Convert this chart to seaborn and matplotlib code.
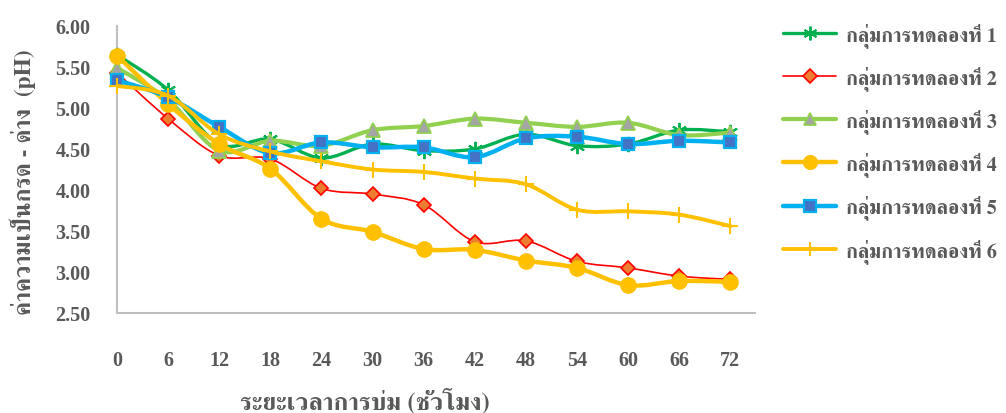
import numpy as np
import matplotlib
matplotlib.use("Agg")
import matplotlib.pyplot as plt
from matplotlib import font_manager
from matplotlib.ft2font import FT2Font
from matplotlib.path import Path
from matplotlib.patches import PathPatch
from matplotlib.lines import Line2D
import seaborn as sns

# pH of each experimental group over the incubation time (hours)
hours = [0, 6, 12, 18, 24, 30, 36, 42, 48, 54, 60, 66, 72]
group1 = [5.65, 5.22, 4.56, 4.62, 4.39, 4.56, 4.48, 4.50, 4.68, 4.54, 4.56, 4.73, 4.71]
group2 = [5.43, 4.87, 4.42, 4.38, 4.02, 3.95, 3.82, 3.37, 3.38, 3.13, 3.05, 2.95, 2.91]
group3 = [5.49, 5.10, 4.48, 4.60, 4.54, 4.73, 4.78, 4.87, 4.82, 4.77, 4.82, 4.67, 4.70]
group4 = [5.64, 5.05, 4.56, 4.26, 3.65, 3.49, 3.28, 3.27, 3.14, 3.05, 2.84, 2.89, 2.88]
group5 = [5.34, 5.13, 4.77, 4.45, 4.58, 4.52, 4.52, 4.40, 4.63, 4.65, 4.56, 4.60, 4.58]
group6 = [5.27, 5.15, 4.68, 4.47, 4.35, 4.25, 4.22, 4.14, 4.07, 3.76, 3.74, 3.70, 3.56]
labels = ["กลุ่มการทดลองที่ 1", "กลุ่มการทดลองที่ 2", "กลุ่มการทดลองที่ 3",
          "กลุ่มการทดลองที่ 4", "กลุ่มการทดลองที่ 5", "กลุ่มการทดลองที่ 6"]
y_ticks = [2.50, 3.00, 3.50, 4.00, 4.50, 5.00, 5.50, 6.00]
x_title = "ระยะเวลาการบ่ม (ชั่วโมง)"
y_title = "ค่าความเป็นกรด - ด่าง  (pH)"

sns.set_style("white")


def thai_font():
    """Pick an installed font that can render Thai script."""
    best = None
    for f in font_manager.fontManager.ttflist:
        try:
            ft = FT2Font(f.fname)
            if ft.get_char_index(ord("ก")) == 0:
                continue
        except Exception:
            continue
        score = 0
        name = f.name.lower()
        if "serif" in name and "sans" not in name:
            score += 2
        if f.weight in ("bold", 700) or (isinstance(f.weight, int) and f.weight >= 700):
            score += 1
        if best is None or score > best[0]:
            best = (score, f.name)
    return best[1] if best else "DejaVu Sans"


thai = thai_font()
plt.rcParams["font.family"] = [thai, "DejaVu Sans"]

text_color = "#595959"
axis_color = "#BFBFBF"

styles = [
    dict(color="#00B050", lw=2.4, marker=(6, 2, 0), ms=11, mfc="#00B050", mec="#00B050", mew=1.4),
    dict(color="#FF0000", lw=1.2, marker="D", ms=7.5, mfc="#ED7D31", mec="#FF0000", mew=1.2),
    dict(color="#92D050", lw=3.0, marker="^", ms=9.5, mfc="#A5A5A5", mec="#92D050", mew=1.3),
    dict(color="#FFC000", lw=3.2, marker="o", ms=11, mfc="#FFC000", mec="#FFC000", mew=1.0),
    dict(color="#00B0F0", lw=3.2, marker="s", ms=9, mfc="#4472C4", mec="#00B0F0", mew=1.6),
    dict(color="#FFC000", lw=2.8, marker="+", ms=11, mfc="#FFC000", mec="#FFC000", mew=1.5),
]
series = [group1, group2, group3, group4, group5, group6]


def smooth_path(xs, ys, tension=1 / 6):
    """Bezier path through the points (Catmull-Rom style smoothing)."""
    p = np.column_stack([xs, ys]).astype(float)
    n = len(p)
    verts = [p[0]]
    codes = [Path.MOVETO]
    for i in range(n - 1):
        p0 = p[i - 1] if i > 0 else p[i]
        p1 = p[i]
        p2 = p[i + 1]
        p3 = p[i + 2] if i + 2 < n else p[i + 1]
        c1 = p1 + (p2 - p0) * tension
        c2 = p2 - (p3 - p1) * tension
        verts += [c1, c2, p2]
        codes += [Path.CURVE4] * 3
    return Path(verts, codes)


fig = plt.figure(figsize=(10.06, 4.14), dpi=100)
ax = fig.add_axes([117 / 1006, 1 - 314 / 414, (755 - 117) / 1006, (314 - 27) / 414])

handles = []
for k, (vals, st) in enumerate(zip(series, styles)):
    patch = PathPatch(smooth_path(hours, vals), facecolor="none", edgecolor=st["color"],
                      lw=st["lw"], zorder=2 + 2 * k, capstyle="round", joinstyle="round")
    ax.add_patch(patch)
    sns.lineplot(x=hours, y=vals, ax=ax, linestyle="none", marker=st["marker"],
                 markersize=st["ms"], markerfacecolor=st["mfc"], markeredgecolor=st["mec"],
                 markeredgewidth=st["mew"], zorder=3 + 2 * k, legend=False, clip_on=False)
    handles.append(Line2D([], [], color=st["color"], lw=st["lw"], marker=st["marker"],
                          markersize=st["ms"] * 0.9, markerfacecolor=st["mfc"],
                          markeredgecolor=st["mec"], markeredgewidth=st["mew"]))

ax.set_xlim(0, 74.9)
ax.set_ylim(2.5, 6.0)
ax.set_xticks(hours)
ax.set_yticks(y_ticks)

num_font = dict(family="Liberation Serif", weight="bold", size=14.5, color=text_color)
ax.set_xticklabels([str(h) for h in hours], fontdict=num_font)
ax.set_yticklabels([f"{v:.2f}" for v in y_ticks], fontdict=num_font)
ax.tick_params(axis="x", direction="out", length=8, width=1.2, color=axis_color, pad=19)
ax.tick_params(axis="y", direction="out", length=8, width=1.2, color=axis_color, pad=11)

for side in ("top", "right"):
    ax.spines[side].set_visible(False)
for side in ("left", "bottom"):
    ax.spines[side].set_color(axis_color)
    ax.spines[side].set_linewidth(1.5)

ax.set_xlabel(x_title, fontsize=18, fontweight="bold", color=text_color, va="center")
ax.xaxis.set_label_coords(0.389, -0.305)
ax.set_ylabel(y_title, fontsize=17, fontweight="bold", color=text_color, va="center")
ax.yaxis.set_label_coords(-0.147, 0.46)

leg = fig.legend(handles, labels, loc="upper left", bbox_to_anchor=(765 / 1006, 1 - 5 / 414),
                 frameon=False, handlelength=2.65, labelspacing=0.91, handletextpad=0.45,
                 prop=dict(size=14.5, weight="bold"))
for t in leg.get_texts():
    t.set_color(text_color)

fig.savefig("out.png", dpi=100)
